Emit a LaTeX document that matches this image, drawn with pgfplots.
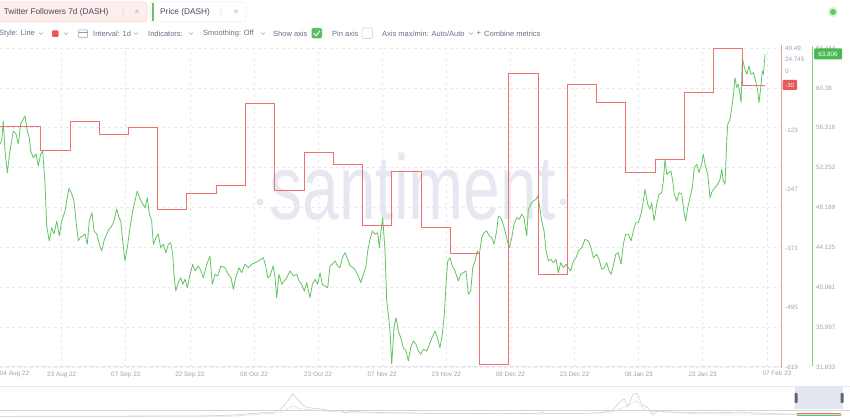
\documentclass[border=0pt]{standalone}
\usepackage{pgfplots}
\pgfplotsset{compat=1.18}
\usepackage{fontspec}
\setmainfont{Liberation Sans}
\newfontfamily\dejavu{DejaVu Sans}
\definecolor{redline}{RGB}{240,112,110}
\definecolor{redaxis}{RGB}{242,155,152}
\definecolor{redbox}{RGB}{232,88,86}
\definecolor{greenline}{RGB}{98,196,98}
\definecolor{greenaxis}{RGB}{128,206,128}
\definecolor{greenbox}{RGB}{76,184,84}
\definecolor{ticktext}{RGB}{155,163,185}
\definecolor{gridc}{RGB}{230,233,240}
\definecolor{tooltext}{RGB}{105,112,135}
\definecolor{titletext}{RGB}{70,75,95}
\definecolor{watermark}{RGB}{230,232,241}
\definecolor{navline}{RGB}{205,208,218}
\definecolor{navline2}{RGB}{222,224,232}
\definecolor{navsel}{RGB}{226,230,239}
\definecolor{navhandle}{RGB}{95,100,120}
\definecolor{pinkfill}{RGB}{253,237,237}
\definecolor{pinkdraw}{RGB}{248,214,214}
\definecolor{tabdraw}{RGB}{230,232,238}
\definecolor{dotlight}{RGB}{215,243,215}
\definecolor{dotdark}{RGB}{100,200,100}
\definecolor{checkgreen}{RGB}{90,190,100}
\definecolor{checkborder}{RGB}{215,218,228}
\newcommand{\chev}[2]{\draw[tooltext!60, line width=0.5pt] ({#1-2},{#2+1}) -- (#1,{#2-1}) -- ({#1+2},{#2+1});}
% follower scale (-619 .. 49.49) mapped onto the price scale (31.933 .. 64.444)
\newcommand{\fmap}[1]{\fpeval{31.933+(#1+619)*32.511/668.49}}
\begin{document}
\begin{tikzpicture}[x=1pt,y=1pt]
\fill[white] (0,0) rectangle (850,419);
% watermark
\node[text=watermark, font=\fontsize{66}{66}\selectfont, yscale=1.39, transform shape, anchor=base, inner sep=0pt] at (412.5,199) {santiment};
\fill[watermark] (260,217) circle (3.5);
\fill[watermark] (563,217) circle (3.5);

\begin{axis}[
  at={(0,53)}, anchor=south west, scale only axis, width=781pt, height=319pt,
  xmin=-14.576, xmax=172.04, ymin=31.933, ymax=64.444,
  axis line style={draw=none}, tick style={draw=none},
  xtick={0.17,15.48,30.80,46.12,61.43,76.75,92.07,107.38,122.70,138.02,153.33,168.65},
  xticklabels={23 Aug 22,07 Sep 22,22 Sep 22,08 Oct 22,23 Oct 22,07 Nov 22,23 Nov 22,08 Dec 22,23 Dec 22,08 Jan 23,23 Jan 23,{}},
  ytick={31.933,35.997,40.061,44.125,48.189,52.252,56.316,60.38,64.444},
  yticklabels={31.933,35.997,40.061,44.125,48.189,52.252,56.316,60.38,64.444},
  yticklabel pos=right,
  yticklabel style={font=\fontsize{6.3}{7}\selectfont, text=ticktext, anchor=west, inner sep=0pt, xshift=35pt},
  grid=major,
  major grid style={gridc, dash pattern=on 3pt off 3pt, line width=0.6pt},
  xticklabel style={font=\fontsize{6.4}{7}\selectfont, text=ticktext, anchor=center, yshift=-7.5pt, inner sep=0pt},
  clip=false,
]
% Price (DASH)
\addplot[greenline, line width=0.8pt, line join=round] coordinates {
(-14.58,54.63) (-14.17,54.97) (-13.79,57.01) (-13.38,53.95) (-12.83,51.74) (-12.19,53.95) (-11.40,55.99) (-10.75,55.68) (-10.20,54.66) (-9.63,56.70) (-8.60,57.52) (-8.05,55.99) (-7.58,55.30) (-7.24,53.95) (-6.62,53.27) (-5.97,53.64) (-5.43,52.42) (-4.85,53.64) (-4.37,53.95) (-3.82,50.59) (-3.42,46.30) (-2.80,44.78) (-2.22,46.13) (-1.67,45.49) (-1.03,46.81) (-0.41,45.29)
(0.17,46.81) (0.96,47.83) (1.36,48.85) (1.91,50.15) (2.56,49.57) (3.11,48.85) (3.58,46.81) (4.13,44.78) (4.54,45.11) (5.19,45.29) (5.73,45.49) (6.28,44.44) (6.76,46.81) (7.41,47.66) (7.89,45.79) (8.53,45.49) (9.15,44.44) (9.73,43.76) (10.27,44.78) (10.92,45.49) (11.54,46.00) (12.11,46.30) (12.66,46.81) (13.31,48.04) (13.86,47.15) (14.27,46.81) (14.74,44.78) (15.29,42.74) (15.84,44.09) (16.49,46.13) (17.13,47.83) (17.68,48.85) (18.23,49.87) (18.88,49.06) (19.52,48.55) (20.07,48.17) (20.62,49.19) (21.10,47.53) (21.67,46.81) (22.06,44.44) (22.70,45.11) (23.25,45.49) (23.82,44.09) (24.44,44.44) (25.09,43.58) (25.64,44.44) (26.21,44.60) (26.69,43.42) (27.00,41.38) (27.41,39.68) (28.03,40.53) (28.60,41.03) (29.08,40.36) (29.63,40.87) (30.18,40.02) (30.83,41.38) (31.47,42.40) (32.02,41.72) (32.81,42.23) (33.45,41.72) (34.00,41.03) (34.82,42.40) (35.60,43.25) (36.15,40.36) (36.80,41.38) (37.44,41.21) (38.23,42.23) (39.19,42.05) (39.98,41.38) (40.62,41.03) (41.17,39.85) (41.75,41.03) (42.53,42.05) (43.18,41.54) (43.97,42.40) (44.76,42.05) (45.57,42.40) (46.36,42.56) (47.14,42.74) (48.34,43.07) (48.91,42.23) (49.39,41.03) (49.94,41.21) (50.73,42.23) (51.14,41.03) (51.54,39.00) (52.09,41.38) (52.74,40.36) (53.36,40.70) (53.93,41.03) (54.72,41.72) (55.51,41.21) (56.32,41.38) (56.87,40.70) (57.51,40.36) (58.14,39.68) (58.71,40.53) (59.50,39.00) (60.05,40.36) (60.69,40.87) (61.34,40.36) (61.89,41.54) (62.44,40.36) (63.08,40.19) (63.73,40.02) (64.28,42.23) (64.83,42.40) (65.47,42.74) (66.12,42.23) (66.67,42.05) (67.22,43.07) (67.86,43.58) (68.51,42.91) (69.06,42.23) (69.85,42.05) (70.42,41.72) (71.04,41.21) (71.61,40.53) (72.24,41.38) (72.81,42.05) (73.29,43.76) (73.84,44.95) (74.39,45.79) (75.03,45.46) (75.68,45.62) (76.06,44.09) (76.47,45.79) (76.87,47.15) (77.42,43.76) (77.83,38.66) (78.21,37.30) (78.62,35.60) (79.02,32.21) (79.57,35.94) (80.05,36.96) (80.60,35.60) (81.17,34.92) (81.79,33.90) (82.44,33.56) (82.99,32.55) (83.56,33.90) (84.18,34.58) (84.83,34.25) (85.38,33.56) (85.95,33.23) (86.57,33.74) (87.39,33.56) (88.01,34.25) (88.82,35.09) (89.37,35.60) (89.92,34.92) (90.56,33.90) (91.11,35.27) (91.59,37.30) (92.00,40.36) (92.40,42.74) (92.95,43.07) (93.50,42.23) (94.15,41.72) (94.93,40.70) (95.51,41.38) (96.13,41.54) (96.78,41.72) (97.33,39.34) (97.90,39.68) (98.38,42.05) (98.93,42.74) (99.48,43.76) (99.95,43.42) (100.53,45.11) (101.08,45.62) (101.72,45.79) (102.34,45.29) (102.91,45.11) (103.46,44.44) (104.11,45.79) (104.49,47.32) (105.07,47.15) (105.55,46.64) (106.10,45.79) (106.65,44.78) (107.12,44.09) (107.70,45.11) (108.24,46.48) (108.89,47.15) (109.52,46.99) (110.09,47.50) (110.64,47.15) (111.28,45.29) (111.66,48.01) (112.24,48.52) (112.86,48.85) (113.50,49.03) (113.91,49.36) (114.29,48.52) (114.87,46.81) (115.42,45.79) (115.90,43.76) (116.45,42.74) (117.02,42.91) (117.64,42.56) (118.29,42.91) (118.84,41.54) (119.40,42.56) (120.03,42.05) (120.68,42.40) (121.22,42.05) (121.80,41.72) (122.42,42.74) (123.07,43.07) (123.61,43.76) (124.43,44.09) (125.21,44.95) (126.00,44.78) (126.65,44.09) (127.20,43.07) (128.01,43.42) (128.56,42.91) (129.20,41.89) (129.82,42.05) (130.40,42.56) (130.95,41.72) (131.42,41.38) (131.97,42.23) (132.55,43.42) (133.17,43.58) (133.81,42.40) (134.36,44.44) (134.93,45.46) (135.56,45.46) (136.20,44.78) (136.75,45.79) (137.33,46.64) (137.95,46.64) (138.59,47.50) (139.14,48.85) (139.55,50.05) (140.19,48.52) (140.74,48.01) (141.15,48.68) (141.70,46.81) (142.34,48.52) (142.89,49.54) (143.54,49.70) (143.92,50.89) (144.33,53.10) (144.73,51.57) (145.28,51.74) (145.76,51.91) (146.17,50.89) (146.55,49.54) (147.12,48.85) (147.67,49.70) (148.32,49.54) (148.94,47.50) (149.27,46.81) (149.75,48.17) (150.30,49.19) (150.85,50.21) (151.33,52.25) (151.90,52.59) (152.45,51.74) (153.10,52.59) (153.48,53.61) (153.89,52.59) (154.53,51.57) (155.08,49.19) (155.63,49.87) (156.27,50.21) (156.92,50.55) (157.47,51.06) (157.88,52.08) (158.26,50.89) (158.66,50.55) (159.07,54.97) (159.31,56.67) (159.86,57.18) (160.26,58.36) (160.64,59.55) (161.05,61.42) (161.46,60.40) (161.84,60.75) (162.25,59.73) (162.49,58.87) (162.80,63.46) (163.28,62.44) (163.85,61.77) (164.40,62.61) (164.88,61.77) (165.43,61.93) (166.00,61.08) (166.48,60.06) (166.79,58.87) (167.20,60.40) (167.58,62.10) (167.82,61.77) (168.23,63.81)
};
% Twitter Followers 7d (DASH), on its own scale -619 .. 49.49
\addplot[redline, line width=1pt, const plot, y filter/.expression={31.933+(y+619)*32.511/668.49}] coordinates {
(-14.576,-114) (-4.85,-165) (2.15,-103.5) (9.15,-131) (16.18,-117.5) (23.1,-290) (30.0,-256) (37.2,-238) (44.1,-66) (51.1,-249) (58.1,-170) (65.1,-194) (72.1,-322) (79.0,-210) (86.1,-326) (93.1,-381.5) (100.1,-614) (107.0,-4) (114.1,-426) (121.0,-27) (128.0,-64) (135.0,-212) (142.0,-184) (148.9,-44) (155.9,49) (162.9,-30) (168.2,-30)
};
% follower scale labels
\foreach \v/\t in {-619/-619,-495/-495,-371/-371,-247/-247,-123/-123,0/0,24.745/24.745,49.49/49.49}{
  \edef\temp{\noexpand\node[font=\noexpand\fontsize{6.3}{7}\noexpand\selectfont, text=ticktext, anchor=west, inner sep=0pt, xshift=4pt] at (axis cs:172.04,\fmap{\v}) {\t};}
  \temp
}
\end{axis}
\draw[gridc, line width=0.6pt] (0,53) -- (781,53);
% scale lines
\draw[redaxis, line width=0.9pt] (781,51) -- (781,374);
\draw[greenaxis, line width=0.9pt] (812,52.5) -- (812,372.5);

% extra date labels (shifted to fit)
\node[font=\fontsize{6.4}{7}\selectfont, text=ticktext, inner sep=0pt] at (14.5,45.5) {04 Aug 22};
\node[font=\fontsize{6.4}{7}\selectfont, text=ticktext, inner sep=0pt] at (777,45.5) {07 Feb 23};

% current value boxes
\fill[redbox, rounded corners=1pt] (782.5,329) rectangle (797,339);
\node[font=\fontsize{6}{7}\selectfont, text=white, inner sep=0pt] at (789.7,334) {-30};
\fill[greenbox, rounded corners=1pt] (814,359.5) rectangle (842,370.5);
\node[font=\fontsize{6.3}{7}\selectfont, text=white, inner sep=0pt] at (828,365) {63.806};

% ---------- navigator
\draw[gridc, line width=0.5pt] (0,33) -- (850,33);
\draw[gridc!80!gray, line width=0.5pt] (0,9) -- (850,9);
\fill[navsel] (795,9.5) rectangle (843,32.5);
\begin{axis}[
  at={(0,9)}, anchor=south west, scale only axis, width=843pt, height=24pt,
  xmin=0, xmax=843, ymin=0, ymax=100, axis lines=none, clip=false,
]
\addplot[navline2, line width=0.6pt] coordinates {
(0,0.8) (230,2.1) (280,16.7) (293,45.8) (300,33.3) (350,16.7) (540,12.5) (610,16.7) (625,41.7) (637,66.7) (645,25) (700,12.5) (843,8.3)
};
\addplot[navline, line width=0.6pt] coordinates {
(0,2.1) (100,2.9) (200,4.2) (230,6.3) (240,10.4) (255,14.6) (265,18.8) (272,16.7) (280,29.2) (288,66.7) (293,95.8) (297,75) (300,62.5) (305,41.7) (310,37.5) (320,33.3) (330,25) (340,27.1) (345,16.7) (350,22.9) (370,18.8) (400,16.7) (430,14.6) (470,14.6) (500,12.5) (540,14.6) (542,20.8) (545,14.6) (580,14.6) (600,16.7) (612,25) (618,54.2) (624,75) (628,41.7) (633,95.8) (637,98) (642,50) (648,37.5) (653,8.3) (658,25) (665,20.8) (700,16.7) (740,18.8) (780,12.5) (800,10.4) (843,10.4)
};
\addplot[redline, line width=0.8pt] coordinates {(797,13.8) (841,13.8)};
\addplot[greenline, line width=0.8pt] coordinates {(797,4.2) (841,4.2)};
\end{axis}
\fill[navhandle, rounded corners=0.8pt] (794.5,16) rectangle (797.5,26);
\fill[navhandle, rounded corners=0.8pt] (840.5,16) rectangle (843.5,26);

% ---------- toolbar row 1
\filldraw[fill=pinkfill, draw=pinkdraw, rounded corners=3pt, line width=0.5pt] (-5,397) rectangle (147,417);
\node[anchor=west, inner sep=0pt, font=\fontsize{8.3}{9}\selectfont, text=titletext] at (3.6,407) {Twitter Followers 7d (DASH)};
\node[inner sep=0pt, font=\dejavu\fontsize{7}{8}\selectfont, text=ticktext] at (123,407) {⋮};
\node[inner sep=0pt, font=\fontsize{8}{9}\selectfont, text=ticktext] at (137,407) {×};
\filldraw[fill=white, draw=tabdraw, rounded corners=3pt, line width=0.5pt] (150,397) rectangle (246,417);
\fill[greenline] (151.5,398) rectangle (154,416);
\node[anchor=west, inner sep=0pt, font=\fontsize{8.3}{9}\selectfont, text=titletext] at (160,407) {Price (DASH)};
\node[inner sep=0pt, font=\dejavu\fontsize{7}{8}\selectfont, text=ticktext] at (221,407) {⋮};
\node[inner sep=0pt, font=\fontsize{8}{9}\selectfont, text=ticktext] at (236,407) {×};
% status dot
\fill[dotlight] (833,407) circle (5);
\fill[dotdark] (833,407) circle (3);

% ---------- toolbar row 2
\def\ry{385.5}
\begin{scope}[every node/.style={anchor=west, inner sep=0pt, font=\fontsize{7.5}{8}\selectfont, text=tooltext}]
\node at (-1,\ry) {Style: Line};
\chev{41}{\ry}
\fill[redbox, rounded corners=1pt] (52,382) rectangle (58.5,388.5);
\chev{66}{\ry}
\draw[tooltext!70, line width=0.5pt, rounded corners=0.8pt] (78.5,381.5) rectangle (87.5,389);
\draw[tooltext!70, line width=0.5pt] (78.5,387) -- (87.5,387);
\node at (93,\ry) {Interval: 1d};
\chev{136}{\ry}
\node at (148,\ry) {Indicators:};
\chev{191}{\ry}
\node at (203,\ry) {Smoothing: Off};
\chev{263}{\ry}
\node at (273,\ry) {Show axis};
\fill[checkgreen, rounded corners=1.5pt] (311.5,380.5) rectangle (322,391);
\draw[white, line width=0.9pt] (313.8,385.8) -- (316.2,383.3) -- (320,388.2);
\node at (332,\ry) {Pin axis};
\draw[checkborder, line width=0.6pt, rounded corners=1.5pt] (362,380.5) rectangle (372.5,391);
\node at (382,\ry) {Axis max/min: Auto/Auto};
\chev{471}{\ry}
\node at (476.5,\ry) {+};
\node at (484,\ry) {Combine metrics};
\end{scope}

\pgfresetboundingbox
\path[use as bounding box] (0,0) rectangle (850,419);
\end{tikzpicture}
\end{document}
